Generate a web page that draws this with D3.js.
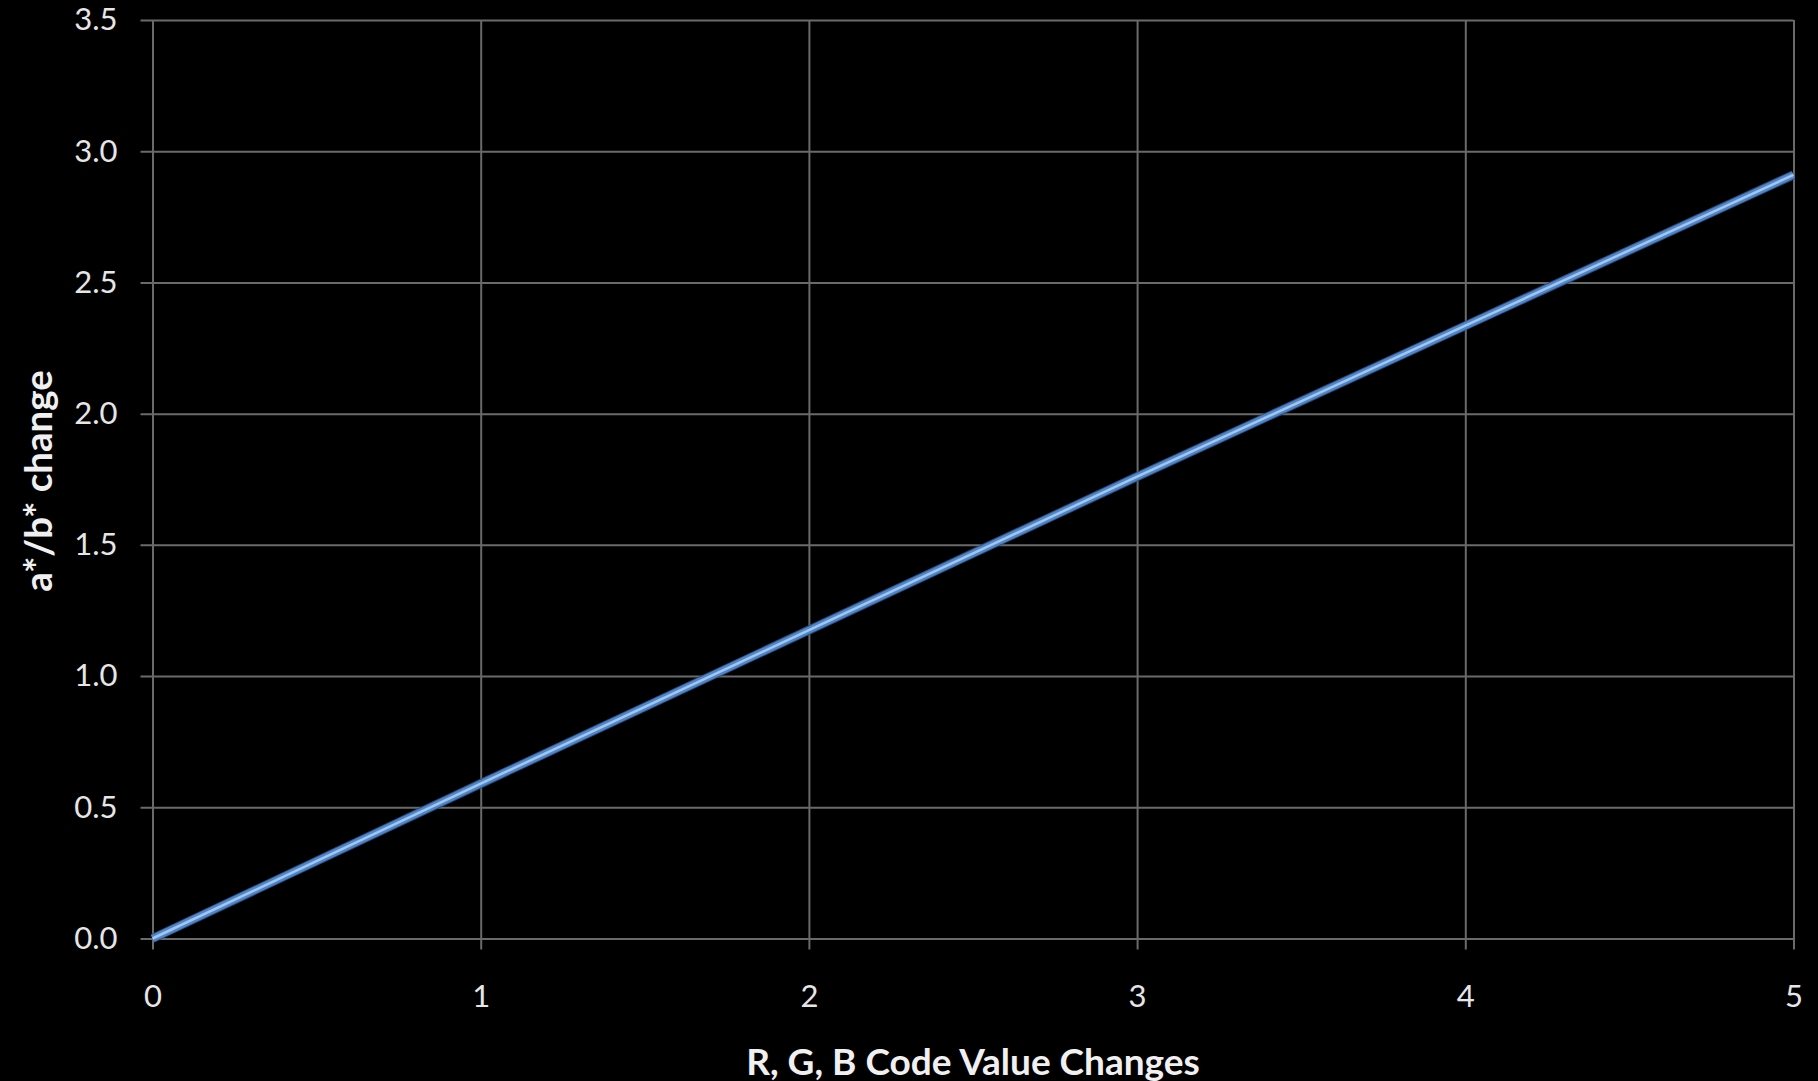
<!DOCTYPE html>
<html><head><meta charset="utf-8">
<script src="https://cdn.jsdelivr.net/npm/d3@7"></script>
<style>
html,body{margin:0;padding:0;background:#000;}
svg{display:block;}
</style></head>
<body>
<script>
const xValues = [0, 1, 2, 3, 4, 5];
const yValues = [0, 0.59, 1.175, 1.76, 2.335, 2.91];
const xTicks = [0, 1, 2, 3, 4, 5];
const yTicks = [0, 0.5, 1.0, 1.5, 2.0, 2.5, 3.0, 3.5];
const xTitle = "R, G, B Code Value Changes";
const yTitle = "a*/b* change";

const W = 1818, H = 1081;
const m = {left: 152.5, right: W - 1793.5, top: 20, bottom: H - 938.5};
const svg = d3.select("body").append("svg").attr("width", W).attr("height", H)
  .style("background", "#000");

const x = d3.scaleLinear().domain([0, 5]).range([m.left, W - m.right]);
const y = d3.scaleLinear().domain([0, 3.5]).range([H - m.bottom, m.top]);

const gridColor = "#6a6a6a";
const font = "Lato, 'Open Sans', sans-serif";
const plotW = x(5) - x(0);

// horizontal gridlines + y tick labels
const gy = svg.append("g").attr("transform", `translate(${x(0)},0)`)
  .call(d3.axisLeft(y).tickValues(yTicks).tickFormat(d3.format(".1f"))
    .tickSizeInner(0).tickSizeOuter(0).tickPadding(35));
gy.select(".domain").remove();
gy.selectAll(".tick line").attr("stroke", gridColor).attr("stroke-width", 2)
  .attr("x1", -12).attr("x2", plotW);
gy.selectAll(".tick text").attr("fill", "#e6e6e6").style("font-family", font).style("font-size", "31px");

// vertical gridlines + x tick labels
const gx = svg.append("g").attr("transform", `translate(0,${y(0)})`)
  .call(d3.axisBottom(x).tickValues(xTicks).tickFormat(d3.format("d"))
    .tickSizeInner(0).tickSizeOuter(0).tickPadding(46));
gx.select(".domain").remove();
gx.selectAll(".tick line").attr("stroke", gridColor).attr("stroke-width", 2)
  .attr("y1", 11).attr("y2", -(y(0) - y(3.5)));
gx.selectAll(".tick text").attr("fill", "#e6e6e6").style("font-family", font).style("font-size", "31px");

// data line
const line = d3.line().x((d, i) => x(xValues[i])).y(d => y(d));
svg.append("path").datum(yValues).attr("d", line).attr("fill", "none")
  .attr("stroke", "#2a4f80").attr("stroke-width", 9).attr("stroke-linecap", "butt");
svg.append("path").datum(yValues).attr("d", line).attr("fill", "none")
  .attr("stroke", "#4f86c8").attr("stroke-width", 7).attr("stroke-linecap", "butt");
svg.append("path").datum(yValues).attr("d", line).attr("fill", "none")
  .attr("stroke", "#a3c5ee").attr("stroke-width", 2.5).attr("stroke-linecap", "butt");

// titles
svg.append("text").attr("x", 973).attr("y", 1060).attr("text-anchor", "middle")
  .attr("dominant-baseline", "central")
  .attr("fill", "#f0f0f0").style("font-family", font).style("font-weight", "bold").style("font-size", "37px")
  .text(xTitle);
svg.append("text").attr("transform", "translate(37,481) rotate(-90)").attr("text-anchor", "middle")
  .attr("dominant-baseline", "central")
  .attr("fill", "#f0f0f0").style("font-family", font).style("font-weight", "bold").style("font-size", "38.5px")
  .text(yTitle);
</script>
</body></html>
